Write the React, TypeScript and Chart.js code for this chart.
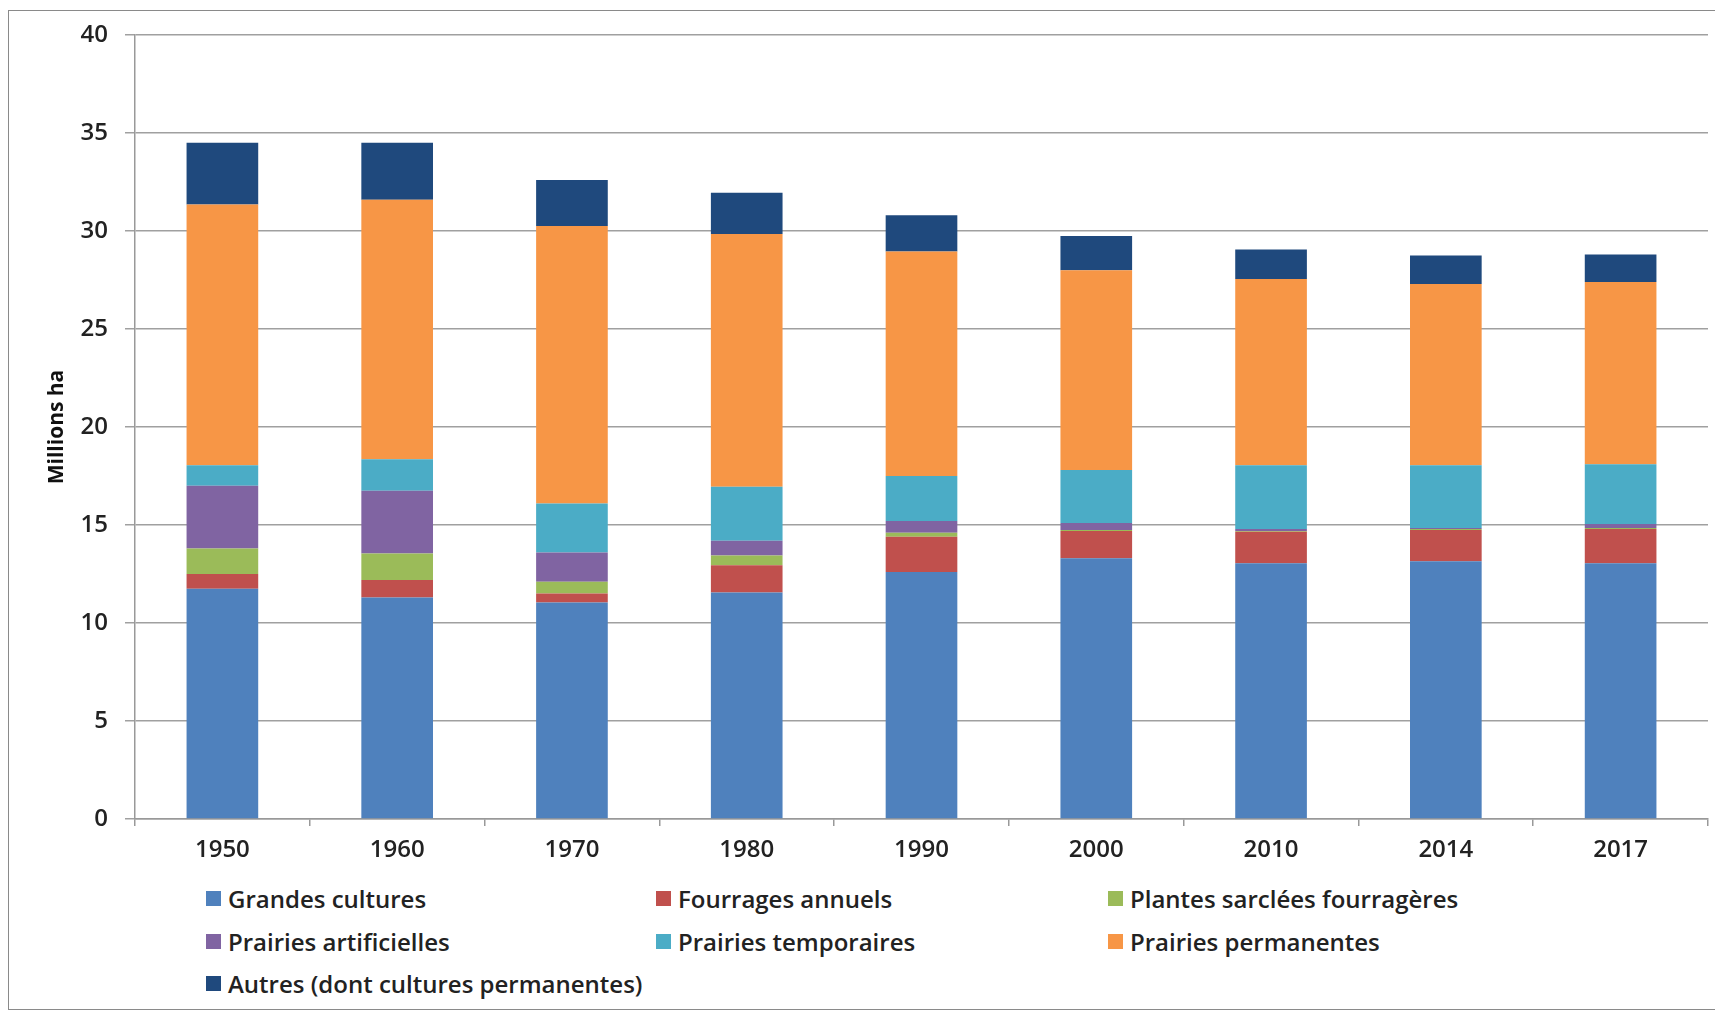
import React, { useEffect, useRef } from 'react';
import { Chart, registerables } from 'chart.js';

Chart.register(...registerables);

const years = ['1950', '1960', '1970', '1980', '1990', '2000', '2010', '2014', '2017'];
const grandesCultures = [11.75, 11.3, 11.05, 11.55, 12.6, 13.3, 13.05, 13.15, 13.05];
const fourragesAnnuels = [0.75, 0.9, 0.45, 1.4, 1.8, 1.4, 1.6, 1.6, 1.75];
const plantesSarclees = [1.3, 1.35, 0.6, 0.5, 0.2, 0.05, 0.05, 0.05, 0.05];
const prairiesArtificielles = [3.2, 3.2, 1.5, 0.75, 0.6, 0.35, 0.1, 0.05, 0.2];
const prairiesTemporaires = [1.05, 1.6, 2.5, 2.75, 2.3, 2.7, 3.25, 3.2, 3.05];
const prairiesPermanentes = [13.3, 13.25, 14.15, 12.9, 11.45, 10.2, 9.5, 9.25, 9.3];
const autres = [3.15, 2.9, 2.35, 2.1, 1.85, 1.75, 1.5, 1.45, 1.4];

const seriesLabels = [
  'Grandes cultures',
  'Fourrages annuels',
  'Plantes sarclées fourragères',
  'Prairies artificielles',
  'Prairies temporaires',
  'Prairies permanentes',
  'Autres (dont cultures permanentes)',
];
const seriesValues = [
  grandesCultures,
  fourragesAnnuels,
  plantesSarclees,
  prairiesArtificielles,
  prairiesTemporaires,
  prairiesPermanentes,
  autres,
];
const seriesColors = ['#4F81BD', '#C0504D', '#9BBB59', '#8064A2', '#4BACC6', '#F79646', '#1F497D'];

const yTitle = 'Millions ha';
const FONT = "'Open Sans', sans-serif";

export default function App() {
  const canvasRef = useRef<HTMLCanvasElement | null>(null);

  useEffect(() => {
    if (!canvasRef.current) return;
    const chart = new Chart(canvasRef.current, {
      type: 'bar',
      data: {
        labels: years,
        datasets: seriesLabels.map((label, i) => ({
          label,
          data: seriesValues[i],
          backgroundColor: seriesColors[i],
          borderWidth: 0,
          barPercentage: 0.41,
          categoryPercentage: 1,
        })),
      },
      options: {
        animation: false,
        responsive: false,
        devicePixelRatio: 1,
        layout: { padding: { top: 24, right: 14, left: 0, bottom: 0 } },
        plugins: {
          legend: { display: false },
          tooltip: { enabled: false },
        },
        scales: {
          x: {
            stacked: true,
            afterFit: (scale: any) => {
              scale.height = 62;
            },
            grid: {
              display: true,
              drawOnChartArea: false,
              drawTicks: true,
              tickLength: 7,
              offset: true,
              color: '#999',
              lineWidth: 1.5,
            },
            border: { display: true, color: '#999', width: 1.5 },
            ticks: {
              color: '#222',
              padding: 10,
              font: { family: FONT, size: 24, weight: '600' },
            },
          },
          y: {
            stacked: true,
            min: 0,
            max: 40,
            afterFit: (scale: any) => {
              scale.width = 126;
              scale.paddingTop = 0;
              scale.paddingBottom = 0;
            },
            grid: {
              color: '#a0a0a0',
              lineWidth: 1.5,
              drawTicks: true,
              tickLength: 10,
            },
            border: { display: true, color: '#999', width: 1.5 },
            ticks: {
              stepSize: 5,
              color: '#222',
              padding: 17,
              font: { family: FONT, size: 24, weight: '600' },
            },
            title: {
              display: true,
              text: yTitle,
              color: '#111',
              padding: { top: 35, bottom: 0 },
              font: { family: FONT, size: 21, weight: 'bold' },
            },
          },
        },
      },
    });
    return () => chart.destroy();
  }, []);

  const colLeft = [197, 647, 1099];
  const rowCenter = [887, 930, 972];

  return (
    <div
      style={{
        position: 'relative',
        width: 1715,
        height: 1000,
        marginTop: 2,
        border: '1px solid #8a8a8a',
        boxSizing: 'border-box',
        background: '#fff',
        fontFamily: FONT,
      }}
    >
      <canvas
        ref={canvasRef}
        width={1713}
        height={870}
        style={{ position: 'absolute', left: 0, top: 0, width: 1713, height: 870 }}
      />
      {seriesLabels.map((label, i) => {
        const col = i % 3;
        const row = Math.floor(i / 3);
        return (
          <div
            key={label}
            style={{
              position: 'absolute',
              left: colLeft[col],
              top: rowCenter[row] - 17,
              height: 34,
              display: 'flex',
              alignItems: 'center',
              whiteSpace: 'nowrap',
              fontSize: 24,
              fontWeight: 600,
              color: '#222',
            }}
          >
            <span
              style={{
                display: 'inline-block',
                width: 15,
                height: 15,
                background: seriesColors[i],
                marginRight: 7,
              }}
            />
            <span>{label}</span>
          </div>
        );
      })}
    </div>
  );
}
